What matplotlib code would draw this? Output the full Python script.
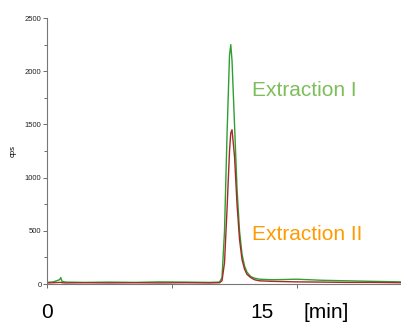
import matplotlib
matplotlib.use("Agg")
from matplotlib import pyplot as plt
from matplotlib.ticker import MultipleLocator

plt.rcParams["font.family"] = ["Liberation Sans", "DejaVu Sans"]

# retention time [min]
time = [0, 0.5, 1.0, 1.1, 1.2, 1.5, 3, 5, 7, 9, 11, 13, 13.8, 14.0, 14.2, 14.4,
        14.6, 14.7, 14.8, 15.0, 15.2, 15.4, 15.6, 15.8, 16.0, 16.3, 16.6, 17,
        18, 20, 22, 24, 26, 28.4]

# Extraction I (green) and Extraction II (red), cps
extraction_1 = [15, 20, 40, 60, 25, 18, 15, 18, 15, 20, 18, 15, 18, 60, 500, 1400,
                2150, 2250, 2100, 1500, 900, 500, 280, 170, 110, 70, 55, 45,
                40, 45, 35, 30, 25, 20]
extraction_2 = [10, 12, 15, 15, 12, 10, 12, 10, 12, 10, 12, 10, 12, 30, 200, 700,
                1250, 1420, 1450, 1200, 750, 420, 230, 140, 90, 60, 40, 30,
                25, 20, 18, 15, 15, 12]

fig = plt.figure(figsize=(4.02, 3.22), dpi=100)
ax = fig.add_axes([0.117, 0.118, 0.883, 0.826])

ax.plot(time, extraction_1, color="#2f9f2f", lw=1.0)
ax.plot(time, extraction_2, color="#a52a2a", lw=1.0)

ax.set_xlim(0, 28.4)
ax.set_ylim(0, 2500)
ax.yaxis.set_major_locator(MultipleLocator(500))
ax.yaxis.set_minor_locator(MultipleLocator(250))
ax.xaxis.set_major_locator(MultipleLocator(10))
ax.set_xticklabels([])
ax.tick_params(axis="y", labelsize=5.5, length=3, width=0.6, colors="#555555",
               labelcolor="#222222", pad=1)
ax.tick_params(axis="y", which="minor", length=2, width=0.6, colors="#555555")
ax.tick_params(axis="x", length=3, width=0.6, colors="#555555")
for s in ["top", "right"]:
    ax.spines[s].set_visible(False)
for s in ["left", "bottom"]:
    ax.spines[s].set_color("#777777")
    ax.spines[s].set_linewidth(0.8)

ax.set_ylabel("cps", fontsize=5.5, labelpad=6)

fig.text(252 / 402, 1 - 91 / 322, "Extraction I", color="#7cbf5a", fontsize=15,
         va="center", ha="left")
fig.text(252 / 402, 1 - 235 / 322, "Extraction II", color="#ff9a00", fontsize=15,
         va="center", ha="left")
fig.text(47 / 402, 1 - 313 / 322, "0", fontsize=15, va="center", ha="center")
fig.text(262 / 402, 1 - 313 / 322, "15", fontsize=15, va="center", ha="center")
fig.text(326 / 402, 1 - 313 / 322, "[min]", fontsize=15, va="center", ha="center")

fig.savefig("out.png", dpi=100)
